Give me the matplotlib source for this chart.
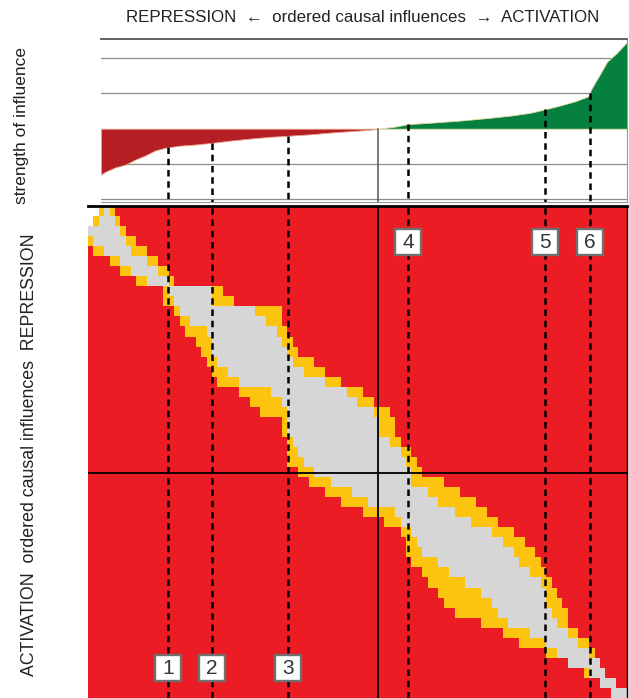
import numpy as np
import matplotlib
matplotlib.use("Agg")
import matplotlib.pyplot as plt
from matplotlib.colors import ListedColormap

plt.rcParams['font.family'] = ['Liberation Sans', 'DejaVu Sans']

# ordered causal influences, rank given in % of all influences
neg_rank = [2.4, 3.2, 5.0, 6.9, 8.7, 10.6, 12.4, 14.3, 17.1, 19.9, 23.0, 26.3, 30.1,
            33.8, 37.1, 41.2, 44.9, 48.6, 52.3, 53.8]
neg_strength = [-1.30, -1.22, -1.10, -1.02, -0.88, -0.76, -0.62, -0.54, -0.48, -0.45,
                -0.40, -0.34, -0.28, -0.23, -0.20, -0.16, -0.11, -0.07, -0.03, 0.0]
pos_rank = [53.8, 57.0, 59.4, 63.5, 69.0, 74.6, 78.3, 82.0, 84.8, 87.6, 90.4, 92.8,
            93.5, 95.0, 96.3, 98.1, 100.0]
pos_strength = [0.0, 0.06, 0.13, 0.17, 0.23, 0.31, 0.37, 0.45, 0.55, 0.66, 0.78, 0.92,
                1.16, 1.55, 1.90, 2.15, 2.46]

zero_rank = 53.8
marker_rank = [14.8, 23.0, 37.1, 59.4, 84.8, 93.1]
marker_label = ['1', '2', '3', '4', '5', '6']

# similarity band for each row of the matrix (rank %, top row first)
yellow_left = [2.2, 1.5, 0.0, 0.0, 1.5, 3.7, 6.3, 9.3, 14.3, 13.9, 15.6, 16.7, 17.6,
               19.9, 21.2, 22.3, 23.0, 24.1, 28.2, 30.4, 31.9, 35.6, 36.2, 36.7, 37.1,
               37.5, 38.6, 40.8, 44.0, 46.8, 51.4, 55.1, 57.9, 58.6, 59.0, 60.5, 61.6,
               63.1, 64.6, 66.4, 68.3, 72.7, 77.2, 80.1, 85.0, 88.7, 92.4, 94.6, 96.8]
gray_left = [2.8, 2.0, 0.4, 1.5, 3.3, 5.6, 8.5, 11.5, 15.2, 15.8, 17.4, 18.9, 21.7,
             23.0, 23.4, 24.1, 25.6, 28.2, 33.8, 36.4, 36.7, 37.1, 37.5, 38.4, 39.0,
             39.7, 42.1, 45.3, 49.0, 51.9, 57.0, 58.4, 59.7, 60.9, 62.3, 64.6, 66.8,
             70.1, 73.1, 75.3, 76.4, 78.3, 82.0, 85.3, 86.8, 89.4, 92.8, 95.0, 97.2]
gray_right = [3.7, 4.6, 5.6, 6.7, 8.5, 10.8, 13.0, 14.8, 22.6, 23.2, 31.0, 33.4, 35.1,
              36.2, 37.1, 37.8, 40.3, 43.6, 47.7, 50.5, 53.2, 53.8, 54.5, 56.4, 58.3,
              59.0, 59.7, 60.5, 63.5, 65.3, 68.1, 70.9, 75.0, 77.2, 78.7, 80.5, 82.4,
              83.9, 84.6, 85.3, 86.1, 87.2, 88.7, 90.9, 92.8, 94.6, 96.1, 98.0, 100.0]
yellow_right = [4.8, 5.9, 7.1, 8.9, 11.5, 13.4, 14.8, 16.3, 24.9, 27.3, 35.6, 36.5, 37.5,
                37.8, 39.3, 42.1, 44.5, 46.8, 50.8, 52.7, 55.7, 56.8, 57.3, 58.3, 59.7,
                60.9, 61.6, 65.9, 68.6, 71.8, 74.2, 76.1, 78.7, 80.9, 82.7, 83.9, 85.3,
                86.5, 87.2, 87.9, 88.7, 89.4, 91.3, 93.1, 94.2, 95.4, 96.5, 98.3, 100.0]
blank_top_rows = 2

# build matrix: 0 blank, 1 red, 2 yellow, 3 gray
n_cols = 100
centers = np.arange(n_cols) + 0.5
mat = np.ones((len(gray_left), n_cols))
for i in range(len(gray_left)):
    mat[i][(centers >= yellow_left[i]) & (centers < gray_left[i])] = 2
    mat[i][(centers >= gray_left[i]) & (centers < gray_right[i])] = 3
    mat[i][(centers >= gray_right[i]) & (centers < yellow_right[i])] = 2
    if i < blank_top_rows:
        mat[i][centers < yellow_left[i]] = 0
cmap = ListedColormap(['white', '#ec1c24', '#fdc40f', '#d6d6d6'])

W, H = 629, 698
fig = plt.figure(figsize=(W / 100, H / 100), dpi=100)

dash = (0, (2.6, 1.9))

# strength panel
ax1 = fig.add_axes([101 / W, (H - 202) / H, (627 - 101) / W, (202 - 38.5) / H])
for v in (-2, -1, 1, 2):
    ax1.axhline(v, color='#8c8c8c', lw=0.9, zorder=0)
ax1.fill_between(neg_rank, neg_strength, 0, color='#b51f24', lw=0.6, edgecolor='#e8a58a', zorder=1)
ax1.fill_between(pos_rank, pos_strength, 0, color='#05803f', lw=0.6, edgecolor='#e6d9a0', zorder=1)
ax1.plot([zero_rank, zero_rank], [-2.1, 0], color='#555555', lw=1.1, zorder=2)
all_rank = neg_rank + pos_rank[1:]
all_strength = neg_strength + pos_strength[1:]
for r in marker_rank:
    v = np.interp(r, all_rank, all_strength)
    ax1.plot([r, r], [v, -2.1], color='black', lw=1.8, ls=dash, zorder=3)
ax1.set_xlim(2.4, 100)
ax1.set_ylim(-2.08, 2.56)
ax1.set_xticks([])
ax1.set_yticks([])
ax1.spines['left'].set_visible(False)
ax1.spines['top'].set_color('#555555')
ax1.spines['top'].set_linewidth(1.3)
ax1.spines['right'].set_color('#999999')
ax1.spines['bottom'].set_color('#999999')

# matrix panel
ax2 = fig.add_axes([88 / W, 0, 539 / W, (H - 206) / H])
ax2.imshow(mat, cmap=cmap, vmin=-0.5, vmax=3.5, aspect='auto', interpolation='nearest',
           extent=(0, 100, 100, 0))
ax2.axvline(zero_rank, color='black', lw=1.3)
ax2.axhline(54.2, color='black', lw=1.3)
for r, lab in zip(marker_rank, marker_label):
    ax2.axvline(r, color='black', lw=1.8, ls=dash, zorder=3)
    y = 94.0 if r < zero_rank else 7.4
    ax2.plot(r, y, marker='s', ms=19, mfc='white', mec='#707070', mew=1.7, zorder=5)
    ax2.text(r, y, lab, ha='center', va='center', fontsize=15, color='#333333', zorder=6)
ax2.set_xlim(0, 100)
ax2.set_ylim(100, 0)
ax2.set_xticks([])
ax2.set_yticks([])
ax2.spines['left'].set_visible(False)
ax2.spines['bottom'].set_visible(False)
ax2.spines['top'].set_linewidth(2)
ax2.spines['right'].set_linewidth(1)

fig.text(363 / W, 1 - 17 / H, 'REPRESSION  \u2190  ordered causal influences  \u2192  ACTIVATION',
         ha='center', va='center', fontsize=12.2, color='#222222')
fig.text(22 / W, 1 - 125 / H, 'strength of influence', rotation=90, ha='center', va='center',
         fontsize=12.5, color='#222222')
fig.text(30 / W, 1 - 455 / H, 'ACTIVATION  ordered causal influences  REPRESSION', rotation=90,
         ha='center', va='center', fontsize=12.8, color='#222222')

fig.savefig('out.png', dpi=100)
